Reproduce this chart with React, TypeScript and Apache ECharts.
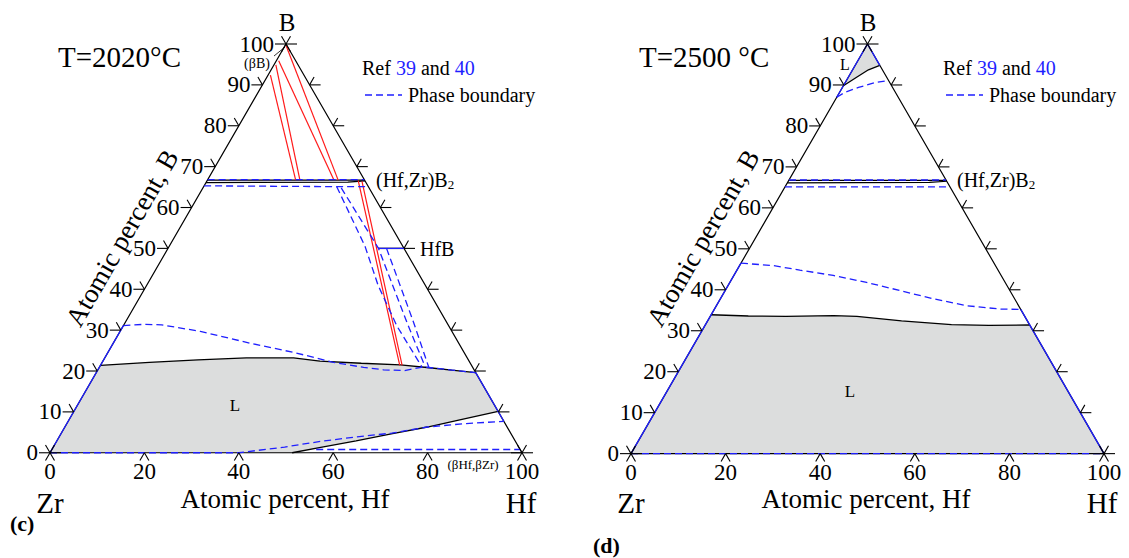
import React, { useEffect, useRef } from "react";
import * as echarts from "echarts";

// Compositions are [at.% Hf, at.% B]; Zr is the balance.
type Comp = [number, number];

const FONT = "Liberation Serif";
const BLUE = "#1f1fff";
const RED = "#ff1a1a";
const GRAY = "#dcdddd";
const DASH = [7, 4];

const SQ = Math.sqrt(3) / 2;
// Gibbs triangle of side 100: Zr at (0,0), Hf at (100,0), B at the apex.
const toXY = ([hf, b]: Comp): [number, number] => [hf + b / 2, b * SQ];

// Axis ticks and labels
const edgeTicks = [10, 20, 30, 40, 50, 60, 70, 80, 90];
const edgeLabels = [0, 10, 20, 30, 40, 50, 60, 70, 80, 90, 100];
const baseTicks = [20, 40, 60, 80];
const baseLabels = [0, 20, 40, 60, 80, 100];
const corners: Comp[] = [[0, 0], [100, 0], [0, 100]];

// ---------- T = 2020 °C ----------
const liquidus2020: Comp[] = [
  [0, 21.4], [10, 22.1], [20, 22.7], [30, 23.2], [40, 23.2], [46, 22.4],
  [55, 21.9], [63.5, 21.5], [70, 20.8], [75, 20.2], [80.4, 19.6],
];
const solidus2020: Comp[] = [
  [51.3, 0], [56.7, 1.3], [63.4, 2.9], [70, 4.6], [76.8, 6.3], [83, 8.1], [89.9, 10.1],
];
const refLiquidus2020: Comp[] = [
  [0, 31.1], [4, 31.4], [8, 31.3], [17, 29.7], [29, 26.8], [40, 24.4], [49, 22.1],
  [56, 20.9], [60.5, 20.3], [65, 20.1], [68.6, 21.0], [74.5, 20.3], [80.4, 19.6],
];
const refSolidus2020: Comp[] = [
  [0, 0], [40, 0], [49, 1.4], [56, 2.8], [63, 3.9], [70, 4.8], [76.8, 6.3], [84, 7.1], [92.3, 7.7],
];
const refBcc2020: Comp[] = [[56, 0.8], [99.2, 0.8]];
const refHfB2Left2020: Comp[] = [[28.2, 65.1], [41.5, 50.5], [49, 41], [58, 31], [68.3, 21.0]];
const refHfB2Right2020: Comp[] = [[29.3, 64.8], [44.6, 50], [51, 42.3], [60, 31.5], [69.0, 21.0]];
const refHfB2020: Comp[] = [[46.3, 50], [52.6, 42.3], [61, 32], [69.8, 20.9]];
const hfbPhase: Comp[] = [[44.5, 50], [50, 50]];
const tieLines2020: Comp[][] = [
  [[0.3, 99.5], [27.7, 66.7]],
  [[0.5, 95.9], [26.8, 66.7]],
  [[0.4, 94.9], [19.6, 66.7]],
  [[0.5, 92.4], [18.7, 66.7]],
  [[32.0, 66.6], [63.4, 21.4]],
  [[32.9, 66.4], [63.9, 21.4]],
];
const blueEdges2020: Comp[][] = [
  [[0, 0], [0, 31.1]],
  [[80.4, 19.6], [92.3, 7.7]],
];

// ---------- T = 2500 °C ----------
const liquidus2500: Comp[] = [
  [0, 33.9], [8, 33.6], [16, 33.5], [26, 33.7], [31, 33.5], [41, 32.4],
  [52, 31.5], [60, 31.3], [68.6, 31.4],
];
const boronLiquidus2500: Comp[] = [[0, 89.8], [1.75, 91.9], [3.35, 93.7], [5.2, 94.8]];
const refLiquidus2500: Comp[] = [
  [0, 46.5], [7.2, 45.9], [13.3, 44.8], [21, 43.5], [28.9, 41.8], [37, 39.8],
  [45, 37.8], [53, 36.1], [60.4, 35.3], [64.8, 35.2],
];
const refBoronLiquidus2500: Comp[] = [[0, 87], [1.1, 88.2], [3.4, 89.4], [6.4, 90.6], [8.9, 91.1]];
const refBase2500: Comp[] = [[0, 0], [100, 0]];
const blueEdges2500: Comp[][] = [
  [[0, 0], [0, 46.5]],
  [[100, 0], [64.8, 35.2]],
  [[0, 100], [0, 87]],
  [[0, 100], [5.2, 94.8]],
];

// (Hf,Zr)B2 band, shared by both sections
const diborideTop: Comp[] = [[0, 66.7], [33.3, 66.7]];
const diborideLow: Comp[] = [[0, 66.1], [30, 66.2], [33.5, 66.5]];
const refDiborideTop: Comp[] = [[0, 66.8], [33.2, 66.8]];
const refDiborideLow2020: Comp[] = [[0, 65.3], [28.2, 65.1], [34.9, 65.1]];
const refDiborideLow2500: Comp[] = [[0, 65.1], [34.9, 65.1]];

const triangle: Comp[] = [[0, 0], [100, 0], [0, 100], [0, 0]];

function lineS(idx: number, pts: Comp[], color: string, width: number, dashed: boolean, z: number) {
  return {
    type: "line",
    xAxisIndex: idx,
    yAxisIndex: idx,
    data: pts.map(toXY),
    symbol: "none",
    silent: true,
    clip: false,
    z,
    lineStyle: { color, width, type: dashed ? DASH : "solid" },
  };
}

function polyS(idx: number, pts: Comp[]) {
  return {
    type: "custom",
    xAxisIndex: idx,
    yAxisIndex: idx,
    coordinateSystem: "cartesian2d",
    silent: true,
    z: 1,
    data: [toXY(pts[0])],
    renderItem: (_p: any, api: any) => ({
      type: "polygon",
      shape: { points: pts.map((p) => api.coord(toXY(p))) },
      style: { fill: GRAY },
    }),
  };
}

const tickData: number[][] = [
  ...edgeTicks.map((v) => [...toXY([0, v]), 0]),
  ...edgeTicks.map((v) => [...toXY([100 - v, v]), 1]),
  ...baseTicks.map((h) => [...toXY([h, 0]), 2]),
  ...corners.map((c) => [...toXY(c), 3]),
];

function tickS(idx: number) {
  return {
    type: "custom",
    xAxisIndex: idx,
    yAxisIndex: idx,
    coordinateSystem: "cartesian2d",
    silent: true,
    z: 6,
    data: tickData,
    renderItem: (_p: any, api: any) => {
      const c = api.coord([api.value(0), api.value(1)]);
      const kind = api.value(2);
      const H = 11;
      const D = 9;
      const dx = 0.5 * D;
      const dy = SQ * D;
      let arms: number[][];
      if (kind === 0) arms = [[-H, 0], [-dx, -dy]];
      else if (kind === 1) arms = [[H, 0], [dx, -dy]];
      else if (kind === 2) arms = [[-dx, dy], [dx, dy]];
      else arms = [[-H, 0], [H, 0], [-dx, -dy], [dx, dy], [dx, -dy], [-dx, dy]];
      return {
        type: "group",
        children: arms.map(([ex, ey]) => ({
          type: "line",
          shape: { x1: c[0], y1: c[1], x2: c[0] + ex, y2: c[1] + ey },
          style: { stroke: "#000", lineWidth: 1.1 },
        })),
      };
    },
  };
}

const labelData: number[][] = [
  ...edgeLabels.map((v) => [...toXY([0, v]), 0, v]),
  ...baseLabels.map((h) => [...toXY([h, 0]), 1, h]),
];

function labelS(idx: number) {
  return {
    type: "custom",
    xAxisIndex: idx,
    yAxisIndex: idx,
    coordinateSystem: "cartesian2d",
    silent: true,
    z: 6,
    data: labelData,
    renderItem: (_p: any, api: any) => {
      const c = api.coord([api.value(0), api.value(1)]);
      const left = api.value(2) === 0;
      return {
        type: "text",
        x: left ? c[0] - 12 : c[0],
        y: left ? c[1] : c[1] + 19,
        style: {
          text: String(api.value(3)),
          fill: "#000",
          fontSize: 23,
          fontFamily: FONT,
          align: left ? "right" : "center",
          textAlign: left ? "right" : "center",
          verticalAlign: "middle",
          textVerticalAlign: "middle",
        },
      };
    },
  };
}

function txt(text: string, x: number, y: number, size: number, align = "left", extra: any = {}) {
  return {
    type: "text",
    x,
    y,
    rotation: extra.rotation || 0,
    z: 10,
    silent: true,
    style: {
      text,
      fill: "#000",
      fontSize: size,
      fontFamily: FONT,
      fontWeight: extra.bold ? "bold" : "normal",
      align,
      textAlign: align,
      verticalAlign: "middle",
      textVerticalAlign: "middle",
      rich: extra.rich,
    },
  };
}

const refRich = { b: { fill: BLUE, fontSize: 20, fontFamily: FONT } };
const subRich = {
  s: { fontSize: 13, fontFamily: FONT, fill: "#000", verticalAlign: "bottom", padding: [9, 0, 0, 0] },
};

function panelGraphics(dx: number, title: string, tag: string, tagX: number, tagY: number) {
  return [
    txt(title, 58 + dx, 57, 29),
    txt("B", 287 + dx, 22, 25, "center"),
    txt("Zr", 50 + dx, 503, 29, "center"),
    txt("Hf", 521 + dx, 503, 29, "center"),
    txt("Atomic percent, Hf", 285 + dx, 499, 27, "center"),
    txt("Atomic percent, B", 122 + dx, 238, 27, "center", { rotation: Math.PI / 3 }),
    txt(tag, tagX, tagY, 22, "left", { bold: true }),
    txt("Ref {b|39} and {b|40}", 362 + dx, 68, 20, "left", { rich: refRich }),
    txt("Phase boundary", 408 + dx, 95, 20),
    {
      type: "line",
      z: 10,
      silent: true,
      shape: { x1: 365 + dx, y1: 95, x2: 402 + dx, y2: 95 },
      style: { stroke: BLUE, lineWidth: 1.3, lineDash: DASH },
    },
    txt("(Hf,Zr)B{s|2}", 376 + dx, 180, 20, "left", { rich: subRich }),
  ];
}

function buildOption() {
  const series: any[] = [];
  // ---- 2020 °C (panel 0)
  series.push(polyS(0, [[0, 0], ...liquidus2020, ...[...solidus2020].reverse()]));
  series.push(lineS(0, triangle, "#000", 1.2, false, 3));
  series.push(lineS(0, liquidus2020, "#000", 1.3, false, 3));
  series.push(lineS(0, solidus2020, "#000", 1.3, false, 3));
  series.push(lineS(0, diborideTop, "#000", 1.4, false, 3));
  series.push(lineS(0, diborideLow, "#000", 1.2, false, 3));
  series.push(lineS(0, hfbPhase, "#000", 1.4, false, 3));
  series.push(lineS(0, hfbPhase, BLUE, 1.2, false, 4));
  blueEdges2020.forEach((e) => series.push(lineS(0, e, BLUE, 1.3, false, 4)));
  tieLines2020.forEach((t) => series.push(lineS(0, t, RED, 1.2, false, 4)));
  [refLiquidus2020, refSolidus2020, refBcc2020, refHfB2Left2020, refHfB2Right2020, refHfB2020,
    refDiborideTop, refDiborideLow2020].forEach((r) => series.push(lineS(0, r, BLUE, 1.3, true, 5)));
  series.push(tickS(0));
  series.push(labelS(0));

  // ---- 2500 °C (panel 1)
  series.push(polyS(1, [[0, 0], ...liquidus2500, [100, 0]]));
  series.push(polyS(1, [[0, 100], ...boronLiquidus2500]));
  series.push(lineS(1, triangle, "#000", 1.2, false, 3));
  series.push(lineS(1, liquidus2500, "#000", 1.3, false, 3));
  series.push(lineS(1, boronLiquidus2500, "#000", 1.3, false, 3));
  series.push(lineS(1, diborideTop, "#000", 1.4, false, 3));
  series.push(lineS(1, diborideLow, "#000", 1.2, false, 3));
  blueEdges2500.forEach((e) => series.push(lineS(1, e, BLUE, 1.3, false, 4)));
  [refLiquidus2500, refBoronLiquidus2500, refBase2500, refDiborideTop, refDiborideLow2500]
    .forEach((r) => series.push(lineS(1, r, BLUE, 1.3, true, 5)));
  series.push(tickS(1));
  series.push(labelS(1));

  const graphic: any[] = [
    ...panelGraphics(0, "T=2020°C", "(c)", 10, 523),
    ...panelGraphics(581, "T=2500 °C", "(d)", 593, 545),
    txt("HfB", 420, 249, 20),
    txt("(βB)", 257, 63, 14, "center"),
    {
      type: "line",
      z: 10,
      silent: true,
      shape: { x1: 274, y1: 56, x2: 285, y2: 47 },
      style: { stroke: "#000", lineWidth: 0.8 },
    },
    txt("(βHf,βZr)", 473, 464, 13, "center"),
    txt("L", 235, 405, 17, "center"),
    txt("L", 850, 391, 17, "center"),
    txt("L", 845, 64, 16, "center"),
  ];

  return {
    animation: false,
    backgroundColor: "#ffffff",
    grid: [
      { left: 50, top: 44, width: 472, height: 472 * SQ, containLabel: false, outerBoundsMode: "none" },
      { left: 631, top: 44, width: 473, height: 473 * SQ, containLabel: false, outerBoundsMode: "none" },
    ],
    xAxis: [0, 1].map((i) => ({ gridIndex: i, type: "value", min: 0, max: 100, show: false })),
    yAxis: [0, 1].map((i) => ({ gridIndex: i, type: "value", min: 0, max: 100 * SQ, show: false })),
    series,
    graphic,
  };
}

export default function App() {
  const ref = useRef<HTMLDivElement>(null);
  useEffect(() => {
    if (!ref.current) return;
    const chart = echarts.init(ref.current, null, { renderer: "svg" });
    chart.setOption(buildOption() as any);
    return () => chart.dispose();
  }, []);
  return (
    <div
      ref={ref}
      style={{ position: "fixed", left: 0, top: 0, width: 1129, height: 558, background: "#fff" }}
    />
  );
}
